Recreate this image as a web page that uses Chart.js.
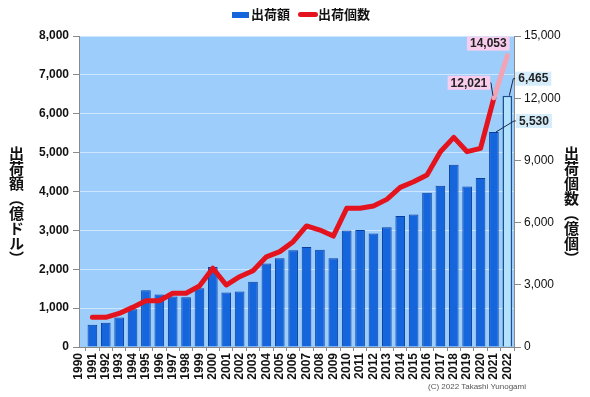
<!DOCTYPE html>
<html>
<head>
<meta charset="utf-8">
<script src="https://cdn.jsdelivr.net/npm/chart.js@4"></script>
<style>
html, body { margin: 0; padding: 0; background: #fff; }
#wrap { position: relative; width: 590px; height: 397px; overflow: hidden; }
#chart { position: absolute; left: 0; top: 0; }
.lg-box { position: absolute; }
.lg-text { position: absolute; top: 5px; font: 700 13px "Noto Sans CJK JP", sans-serif; color: #111; line-height: 18px; }
.ytitle { position: absolute; top: 146px; writing-mode: vertical-rl; text-orientation: upright; font: 700 15px "Noto Sans CJK JP", sans-serif; color: #111; line-height: 16px; font-feature-settings: "vert" 1; }
#copy { position: absolute; left: 428px; top: 382px; font: 8px "Liberation Sans Narrow", "Liberation Sans", sans-serif; color: #555; }
</style>
</head>
<body>
<div id="wrap">
  <canvas id="chart" width="590" height="397"></canvas>
  <div class="lg-box" style="left:232px;top:12px;width:17px;height:6px;background:#1565dd;"></div>
  <div class="lg-text" style="left:251px;">出荷額</div>
  <div class="lg-box" style="left:298px;top:12px;width:20px;height:5px;background:#e3141e;border-radius:3px;"></div>
  <div class="lg-text" style="left:318px;">出荷個数</div>
  <div class="ytitle" style="left:8px;">出荷額（億ドル）</div>
  <div class="ytitle" style="left:563px;">出荷個数（億個）</div>
  <div id="copy">(C) 2022 Takashi Yunogami</div>
</div>
<script>
// 年（1990は空）
const years = [1990, 1991, 1992, 1993, 1994, 1995, 1996, 1997, 1998, 1999,
  2000, 2001, 2002, 2003, 2004, 2005, 2006, 2007, 2008, 2009,
  2010, 2011, 2012, 2013, 2014, 2015, 2016, 2017, 2018, 2019,
  2020, 2021, 2022];

// 出荷額（億ドル）
const shipValue = [null, 575, 625, 760, 970, 1460, 1350, 1300, 1280, 1510,
  2060, 1400, 1430, 1680, 2150, 2280, 2490, 2570, 2500, 2280,
  3000, 3010, 2920, 3080, 3370, 3410, 3970, 4150, 4690, 4130,
  4350, 5530, 6465];

// 出荷個数（億個）
const shipUnits = [null, 1430, 1430, 1620, 1910, 2230, 2230, 2590, 2590, 2940,
  3800, 2990, 3390, 3680, 4350, 4600, 5080, 5840, 5640, 5350,
  6690, 6690, 6800, 7120, 7700, 7970, 8300, 9420, 10110, 9420,
  9580, 12021, 14053];

const forecastYear = 2022;

// 吹き出し
const callouts = [
  { axis: 'y1', year: 2022, value: 14053, text: '14,053', bg: '#f8cdee', dx: -19, dy: -12, leader: false },
  { axis: 'y1', year: 2021, value: 12021, text: '12,021', bg: '#f8cdee', dx: -25, dy: -15, leader: true },
  { axis: 'y', year: 2022, value: 6465, text: '6,465', bg: '#d5ecfa', dx: 26, dy: -17, leader: true },
  { axis: 'y', year: 2021, value: 5530, text: '5,530', bg: '#d5ecfa', dx: 40, dy: -11, leader: true },
];

const plotBg = {
  id: 'plotBg',
  beforeDraw(chart) {
    const { ctx, chartArea: a } = chart;
    ctx.save();
    ctx.fillStyle = '#9dcdfa';
    ctx.fillRect(a.left, a.top, a.right - a.left, a.bottom - a.top);
    ctx.restore();
  }
};

const calloutPlugin = {
  id: 'callouts',
  afterDatasetsDraw(chart) {
    const ctx = chart.ctx;
    const xs = chart.scales.x;
    ctx.save();
    ctx.font = 'bold 12px "Liberation Sans", Arial, sans-serif';
    ctx.textAlign = 'center';
    ctx.textBaseline = 'middle';
    callouts.forEach(c => {
      const px = xs.getPixelForValue(c.year);
      const py = chart.scales[c.axis].getPixelForValue(c.value);
      const cx = px + c.dx, cy = py + c.dy;
      const w = ctx.measureText(c.text).width + 6, h = 14;
      if (c.leader) {
        ctx.strokeStyle = '#1a2a4a';
        ctx.lineWidth = 1;
        ctx.beginPath();
        if (c.dx < 0) {
          ctx.moveTo(cx + w / 2, cy);
          ctx.lineTo(px - 3, cy);
          ctx.lineTo(px - 1, py - 2);
        } else {
          ctx.moveTo(cx - w / 2, cy);
          ctx.lineTo(cx - w / 2 - 2, cy);
          ctx.lineTo(px + 2, py);
        }
        ctx.stroke();
      }
      ctx.fillStyle = c.bg;
      ctx.fillRect(cx - w / 2, cy - h / 2, w, h);
      ctx.fillStyle = '#222';
      ctx.fillText(c.text, cx, cy + 0.5);
    });
    ctx.restore();
  }
};

const tickFont = { family: '"Liberation Sans", Arial, sans-serif', size: 12, weight: 'bold' };

new Chart(document.getElementById('chart'), {
  type: 'bar',
  data: {
    datasets: [
      {
        type: 'line',
        label: '出荷個数',
        data: years.map((y, i) => ({ x: y, y: shipUnits[i] })),
        yAxisID: 'y1',
        borderColor: '#e3141e',
        borderWidth: 5,
        borderCapStyle: 'round',
        borderJoinStyle: 'round',
        pointRadius: 0,
        tension: 0,
        segment: {
          borderColor: s => years[s.p1DataIndex] === forecastYear ? '#f3a3b6' : '#e3141e'
        },
        order: 0
      },
      {
        label: '出荷額',
        data: years.map((y, i) => ({ x: y, y: shipValue[i] })),
        yAxisID: 'y',
        backgroundColor: years.map(y => y === forecastYear ? '#b3e2fc' : '#1565dd'),
        borderColor: years.map(y => y === forecastYear ? '#1b4f8f' : '#0b3f9e'),
        borderWidth: years.map(y => y === forecastYear ? 1.5 : 1),
        barPercentage: 0.72,
        categoryPercentage: 1,
        order: 1
      }
    ]
  },
  options: {
    responsive: false,
    devicePixelRatio: 1,
    animation: false,
    layout: { padding: { top: 36, left: 0, right: 0, bottom: 0 } },
    plugins: { legend: { display: false }, tooltip: { enabled: false } },
    scales: {
      x: {
        type: 'linear',
        min: 1990,
        max: 2022.5,
        offset: false,
        afterFit(s) { s.height = 50; },
        ticks: {
          stepSize: 1,
          includeBounds: false,
          autoSkip: false,
          minRotation: 90,
          maxRotation: 90,
          padding: 2,
          color: '#111',
          font: tickFont,
          callback: v => String(v)
        },
        grid: { drawOnChartArea: false, tickLength: 4, color: '#8a8a8a' },
        border: { color: '#8a8a8a' }
      },
      y: {
        position: 'left',
        min: 0,
        max: 8000,
        afterFit(s) { s.width = 79; },
        ticks: {
          stepSize: 1000,
          padding: 4,
          color: '#111',
          font: tickFont,
          callback: v => v.toLocaleString('en-US')
        },
        grid: { color: '#cde6fd', tickColor: '#8a8a8a', tickLength: 6 },
        border: { color: '#8a8a8a' }
      },
      y1: {
        position: 'right',
        min: 0,
        max: 15000,
        afterFit(s) { s.width = 76; },
        ticks: {
          stepSize: 3000,
          padding: 3,
          color: '#111',
          font: { family: '"Liberation Sans", Arial, sans-serif', size: 12 },
          callback: v => v.toLocaleString('en-US')
        },
        grid: { drawOnChartArea: false, tickLength: 7, color: '#8a8a8a' },
        border: { color: '#8a8a8a' }
      }
    }
  },
  plugins: [plotBg, calloutPlugin]
});
</script>
</body>
</html>
